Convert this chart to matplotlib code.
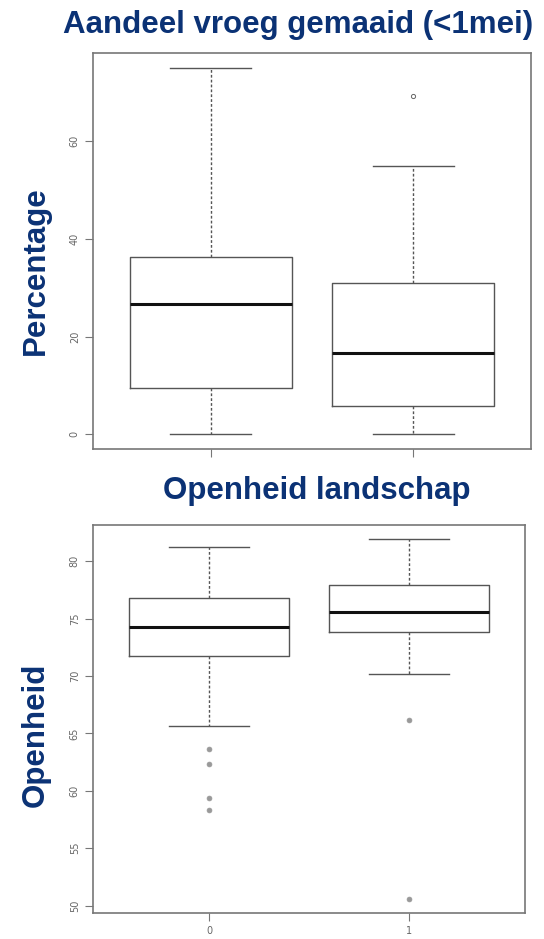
import matplotlib.pyplot as plt

# groups on the x axis
groups = ['0', '1']

# Aandeel vroeg gemaaid (<1mei), percentage
maai_whislo = [0.0, 0.0]
maai_q1 = [9.4, 5.8]
maai_med = [26.6, 16.6]
maai_q3 = [36.2, 30.9]
maai_whishi = [75.0, 54.9]
maai_fliers = [[], [69.2]]

# Openheid landschap
open_whislo = [65.6, 70.2]
open_q1 = [71.7, 73.8]
open_med = [74.3, 75.6]
open_q3 = [76.8, 77.9]
open_whishi = [81.2, 81.9]
open_fliers = [[63.6, 62.3, 59.4, 58.3], [66.2, 50.6]]

navy = '#0b3275'
grey = '#555555'


def make_stats(lo, q1, med, q3, hi, fl):
    stats = []
    for i in range(len(groups)):
        stats.append({'whislo': lo[i], 'q1': q1[i], 'med': med[i],
                      'q3': q3[i], 'whishi': hi[i], 'fliers': fl[i],
                      'label': groups[i]})
    return stats


def draw_box(ax, stats, flier_style):
    ax.bxp(stats, positions=[1, 2], widths=0.8, showfliers=True,
           boxprops=dict(color=grey, linewidth=1.0),
           medianprops=dict(color='#111111', linewidth=2.2),
           whiskerprops=dict(color=grey, linewidth=1.0, linestyle=(0, (2, 1.5))),
           capprops=dict(color=grey, linewidth=1.0),
           capwidths=0.4,
           flierprops=flier_style)
    ax.set_xlim(0.42, 2.58)
    for s in ax.spines.values():
        s.set_color('#777777')
        s.set_linewidth(1.2)
    ax.tick_params(axis='both', colors='#777777', labelcolor='#666666',
                   labelsize=7, length=6, width=0.8)
    for lab in ax.get_yticklabels():
        lab.set_rotation(90)
        lab.set_va('center')


fig = plt.figure(figsize=(5.44, 9.39), dpi=100)

ax1 = fig.add_axes([0.171, 0.5218, 0.805, 0.4217])
draw_box(ax1, make_stats(maai_whislo, maai_q1, maai_med, maai_q3, maai_whishi, maai_fliers),
         dict(marker='o', markersize=3, markerfacecolor='none',
              markeredgecolor='#666666', markeredgewidth=0.7))
ax1.set_ylim(-3, 78)
ax1.set_yticks([0, 20, 40, 60])
ax1.set_xticklabels(['', ''])

ax2 = fig.add_axes([0.171, 0.0277, 0.794, 0.4132])
draw_box(ax2, make_stats(open_whislo, open_q1, open_med, open_q3, open_whishi, open_fliers),
         dict(marker='o', markersize=3.5, markerfacecolor='#999999',
              markeredgecolor='#999999', markeredgewidth=0.5))
ax2.set_ylim(49.35, 83.15)
ax2.set_yticks([50, 55, 60, 65, 70, 75, 80])

title_font = dict(color=navy, fontsize=22.5, fontweight='bold', family='Liberation Sans')
fig.text(0.548, 0.9649, 'Aandeel vroeg gemaaid (<1mei)', ha='center', va='baseline', **title_font)
fig.text(0.583, 0.4686, 'Openheid landschap', ha='center', va='baseline', **title_font)
fig.text(0.066, 0.7114, 'Percentage', ha='center', va='center', rotation=90, **title_font)
fig.text(0.066, 0.2178, 'Openheid', ha='center', va='center', rotation=90, **title_font)

fig.savefig('out.png', dpi=100)
